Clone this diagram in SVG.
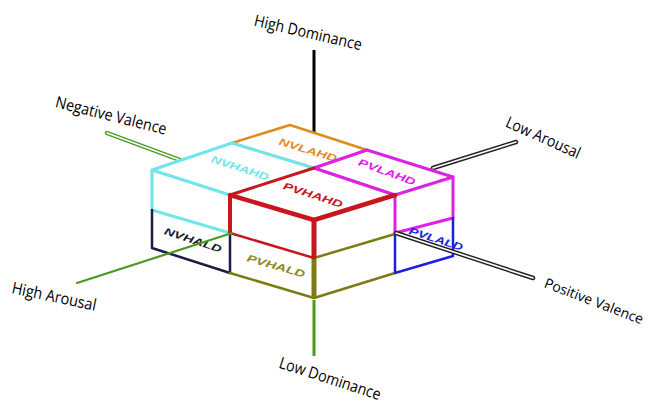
<svg xmlns="http://www.w3.org/2000/svg" width="651" height="408" viewBox="0 0 651 408">
<style>
.ax{font-family:"Open Sans","Liberation Sans",sans-serif;font-size:16px;fill:#000;text-anchor:middle}
.bl{font-family:"Liberation Sans",Arial,sans-serif;font-size:10px;font-weight:bold;font-style:italic;text-anchor:middle}
.e{fill:none;stroke-linecap:round;stroke-linejoin:round}
.face{fill:#fff;stroke:none}
</style>
<rect width="651" height="408" fill="#fff"/>
<g id="connectors">
  <line x1="314" y1="50" x2="314" y2="168" stroke="#000" stroke-width="3"/>
  <line x1="107" y1="133" x2="180" y2="160" stroke="#4a9a1e" stroke-width="4.5" stroke-linecap="round"/>
  <line x1="107" y1="133" x2="180" y2="160" stroke="#fff" stroke-width="1.6" stroke-linecap="round"/>
  <line x1="433" y1="168" x2="516" y2="142" stroke="#222" stroke-width="4.5" stroke-linecap="round"/>
  <line x1="433" y1="168" x2="516" y2="142" stroke="#fff" stroke-width="1.6" stroke-linecap="round"/>
</g>
<g id="node-cube">
  <polygon class="face" points="152,170 232,143 290,125 367,150 453,177 453,256 393,273 313,298 230,273 152,248"/>
  <g id="NVLAHD">
    <polygon class="e" points="232,143 290,125 367,150 314,168" stroke="#e08a22" stroke-width="2.5"/>
    <text class="bl" fill="#e08a22" transform="translate(308,150) rotate(17)" y="3.5" textLength="60" lengthAdjust="spacingAndGlyphs">NVLAHD</text>
  </g>
  <g id="NVHAHD">
    <polyline class="e" points="314,168 232,143 152,170 230,195" stroke="#70e6ea" stroke-width="3"/>
    <polyline class="e" points="152,170 152,210 230,233" stroke="#70e6ea" stroke-width="3"/>
    <text class="bl" fill="#70e6ea" transform="translate(240,168) rotate(18)" y="3.5" textLength="60" lengthAdjust="spacingAndGlyphs">NVHAHD</text>
  </g>
  <g id="PVLAHD">
    <polygon class="e" points="314,168 367,150 453,177 395,195" stroke="#dd22e6" stroke-width="3"/>
    <polyline class="e" points="395,195 395,233 453,218 453,177" stroke="#dd22e6" stroke-width="3"/>
    <text class="bl" fill="#dd22e6" transform="translate(387,172) rotate(20)" y="3.5" textLength="60" lengthAdjust="spacingAndGlyphs">PVLAHD</text>
  </g>
  <g id="NVHALD">
    <polyline class="e" points="152,210 152,248 230,273 230,233" stroke="#1c1c44" stroke-width="2.5"/>
    <text class="bl" fill="#1c1c2c" transform="translate(193,240) rotate(18)" y="3.5" textLength="60" lengthAdjust="spacingAndGlyphs">NVHALD</text>
  </g>
  <g id="PVHALD">
    <polyline class="e" points="230,273 314,298 395,273" stroke="#7c7c12" stroke-width="2.5"/>
    <line x1="314" y1="258" x2="395" y2="234" stroke="#7c7c12" stroke-width="2.5" stroke-linecap="round"/>
    <line x1="314" y1="258" x2="314" y2="298" stroke="#7c7c12" stroke-width="5"/>
    <text class="bl" fill="#8a8a1a" transform="translate(276,266) rotate(16)" y="3.5" textLength="60" lengthAdjust="spacingAndGlyphs">PVHALD</text>
  </g>
  <g id="PVLALD">
    <polyline class="e" points="395,236 395,273 453,256 453,218" stroke="#1e1ee0" stroke-width="2.5"/>
    <text class="bl" fill="#1e1ee0" transform="translate(436,239) rotate(18)" y="3.5" textLength="56" lengthAdjust="spacingAndGlyphs">PVLALD</text>
  </g>
  <g id="PVHAHD">
    <line x1="314" y1="168" x2="395" y2="195" stroke="#dd22e6" stroke-width="2.5" stroke-linecap="round"/>
    <line x1="230" y1="195" x2="314" y2="168" stroke="#c8161e" stroke-width="3" stroke-linecap="round"/>
    <polyline class="e" points="230,195 314,220 395,195" stroke="#c8161e" stroke-width="4.5"/>
    <line x1="230" y1="195" x2="230" y2="233" stroke="#c8161e" stroke-width="4"/>
    <line x1="314" y1="220" x2="314" y2="258" stroke="#c8161e" stroke-width="5"/>
    <line x1="230" y1="233" x2="314" y2="258" stroke="#c8161e" stroke-width="2.5" stroke-linecap="round"/>
    <text class="bl" fill="#c8161e" transform="translate(313,195) rotate(18)" y="3.5" textLength="62" lengthAdjust="spacingAndGlyphs">PVHAHD</text>
  </g>
</g>
<g id="connectors-front">
  <line x1="77" y1="283" x2="232" y2="233" stroke="#4a9a1e" stroke-width="2.2" stroke-linecap="round"/>
  <line x1="314" y1="300" x2="314" y2="356" stroke="#4a9a1e" stroke-width="3"/>
  <line x1="396" y1="233" x2="533" y2="278" stroke="#222" stroke-width="4.5" stroke-linecap="round"/>
  <line x1="396" y1="233" x2="533" y2="278" stroke="#fff" stroke-width="1.6" stroke-linecap="round"/>
</g>
<g id="labels">
  <text class="ax" transform="translate(308,33) rotate(13)" y="5" textLength="110" lengthAdjust="spacingAndGlyphs">High Dominance</text>
  <text class="ax" transform="translate(111,116) rotate(14)" y="5" textLength="114" lengthAdjust="spacingAndGlyphs">Negative Valence</text>
  <text class="ax" transform="translate(543,138) rotate(24)" y="5" textLength="80" lengthAdjust="spacingAndGlyphs">Low Arousal</text>
  <text class="ax" transform="translate(54,297) rotate(12)" y="5" textLength="86" lengthAdjust="spacingAndGlyphs">High Arousal</text>
  <text class="ax" transform="translate(330,379) rotate(18)" y="5" textLength="106" lengthAdjust="spacingAndGlyphs">Low Dominance</text>
  <text class="ax" transform="translate(594,301) rotate(21)" y="5" style="font-size:14px">Positive Valence</text>
</g>
</svg>
